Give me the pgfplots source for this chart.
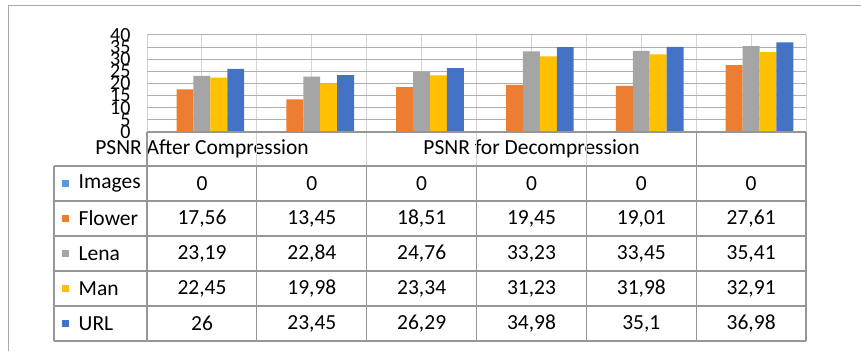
\documentclass[border=0pt]{standalone}
\usepackage{pgfplots}
\pgfplotsset{compat=1.18}
\usepackage{pgfplotstable}
\usepackage{fontspec}
\setmainfont{Carlito}
\definecolor{cImages}{RGB}{91,155,213}
\definecolor{cFlower}{RGB}{237,125,49}
\definecolor{cLena}{RGB}{165,165,165}
\definecolor{cMan}{RGB}{255,192,0}
\definecolor{cURL}{RGB}{68,114,196}
\definecolor{hgray}{RGB}{175,175,175}
\definecolor{vgray}{RGB}{212,212,212}
\definecolor{tgray}{RGB}{150,150,150}
\definecolor{framegray}{RGB}{170,170,170}
\pgfplotstableread{
x Images Flower Lena Man URL
0 0 17.56 23.19 22.45 26
1 0 13.45 22.84 19.98 23.45
2 0 18.51 24.76 23.34 26.29
3 0 19.45 33.23 31.23 34.98
4 0 19.01 33.45 31.98 35.1
5 0 27.61 35.41 32.91 36.98
}\datatable
\newcommand{\tfont}{\fontsize{21.5}{21.5}\selectfont}
\begin{document}
\begin{tikzpicture}[x=1pt,y=1pt]
\useasboundingbox (0,0) rectangle (861,351);
\draw[framegray, line width=1pt] (8,0) -- (8,345) -- (861,345);
\begin{axis}[
  at={(147pt,219pt)}, anchor=south west, scale only axis,
  width=659pt, height=97pt,
  xmin=-0.5, xmax=5.5, ymin=0, ymax=40,
  ytick={0,5,...,40},
  xtick={-0.5,0.5,...,5.5}, minor xtick={0,1,...,5},
  xticklabels={},
  xmajorgrids, xminorgrids, ymajorgrids,
  grid style={line width=1pt},
  x grid style={draw=vgray},
  y grid style={draw=hgray},
  minor grid style={draw=vgray, line width=1pt},
  major tick length=0pt, minor tick length=0pt,
  axis line style={draw=none},
  ybar=0pt, bar width=16.9pt,
  /pgf/number format/assume math mode=true,
  yticklabel style={font=\fontsize{20}{20}\selectfont, xshift=-13pt},
]
\addplot[fill=cImages, draw=none] table[x=x,y=Images]{\datatable};
\addplot[fill=cFlower, draw=none] table[x=x,y=Flower]{\datatable};
\addplot[fill=cLena, draw=none] table[x=x,y=Lena]{\datatable};
\addplot[fill=cMan, draw=none] table[x=x,y=Man]{\datatable};
\addplot[fill=cURL, draw=none] table[x=x,y=URL]{\datatable};
\end{axis}
% header row
\node[font=\tfont] at (202,202) {PSNR After Compression};
\node[font=\tfont] at (531.5,202) {PSNR for Decompression};
% light lines in header row
\foreach \xx in {256.8,366.7,476.5,586.3} {
  \draw[vgray, line width=1.2pt] (\xx,185) -- (\xx,219);
}
% table lines
\begin{scope}[tgray, line width=1.3pt]
\draw (147,219) -- (806,219);
\foreach \yy in {185,150,115,80,45,10} { \draw (54,\yy) -- (806,\yy); }
\draw (54,10) -- (54,185);
\foreach \xx in {147,696.2,806} { \draw (\xx,10) -- (\xx,219); }
\foreach \xx in {256.8,366.7,476.5,586.3} { \draw (\xx,10) -- (\xx,185); }
\end{scope}
% legend column
\foreach \nm/\col/\r in {Images/cImages/0,Flower/cFlower/1,Lena/cLena/2,Man/cMan/3,URL/cURL/4} {
  \pgfmathsetmacro{\yc}{167.5-35*\r}
  \fill[\col] (62,\yc-3.7) rectangle (69.4,\yc+3.7);
  \node[font=\tfont, anchor=west, inner sep=0pt] at (78.5,\yc) {\nm};
  \foreach \c in {0,...,5} {
    \pgfmathsetmacro{\xc}{202+109.83*\c}
    \pgfplotstablegetelem{\c}{\nm}\of\datatable
    \node[font=\tfont] at (\xc,\yc) {\pgfmathprintnumber[use comma,precision=2,assume math mode=true]{\pgfplotsretval}};
  }
}
\end{tikzpicture}
\end{document}
